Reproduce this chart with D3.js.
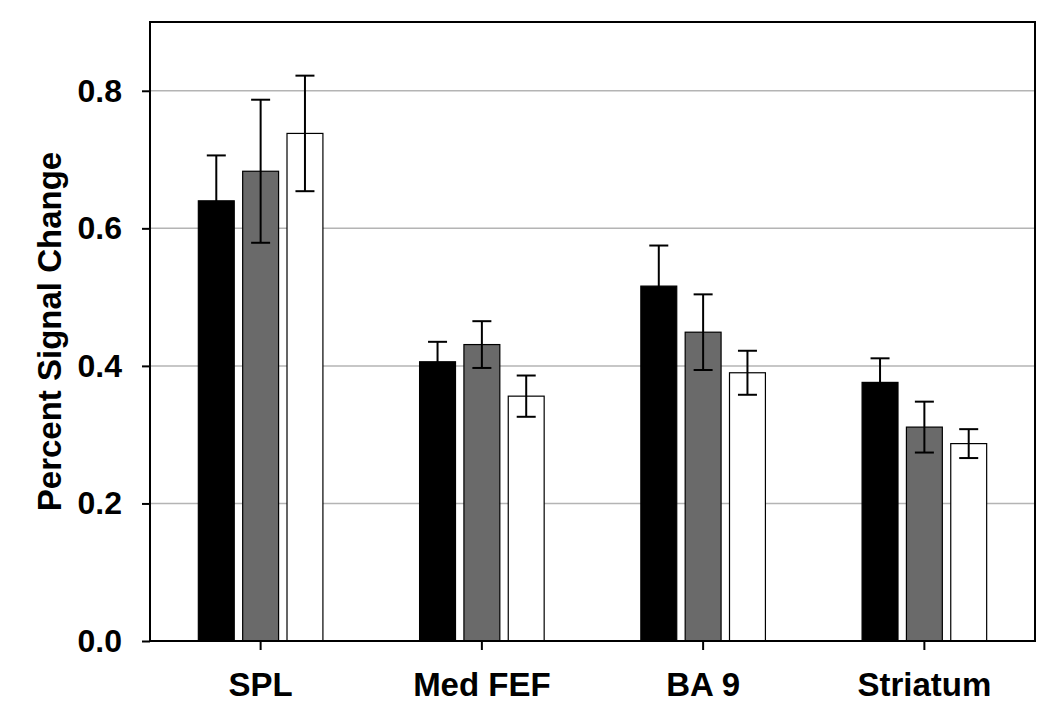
<!DOCTYPE html>
<html>
<head>
<meta charset="utf-8">
<script src="https://cdn.jsdelivr.net/npm/d3@7"></script>
<style>
  body { margin: 0; background: #fff; }
  text { font-family: "Liberation Sans", Arial, sans-serif; font-weight: bold; }
</style>
</head>
<body>
<svg id="chart"></svg>
<script>
w = 1050;
h = 719;
left = 150;   // y axis position
right = 1035;
top_ = 22;
bottom = 641;

var regions = ["SPL", "Med FEF", "BA 9", "Striatum"];
var seriesNames = ["s1", "s2", "s3"];
var seriesFill = ["#000000", "#6a6a6a", "#ffffff"];

// means per series, one value per region
var meansS1 = [0.640, 0.406, 0.516, 0.376];
var meansS2 = [0.683, 0.431, 0.449, 0.311];
var meansS3 = [0.738, 0.356, 0.390, 0.287];
// error bar half-lengths
var errS1 = [0.066, 0.029, 0.059, 0.035];
var errS2 = [0.104, 0.034, 0.055, 0.037];
var errS3 = [0.084, 0.030, 0.032, 0.021];

var yTicks = [0.0, 0.2, 0.4, 0.6, 0.8];

var means = [meansS1, meansS2, meansS3];
var errs = [errS1, errS2, errS3];

var rows = [];
for (var s = 0; s < seriesNames.length; s++) {
  for (var i = 0; i < regions.length; i++) {
    rows.push({ region: regions[i], series: seriesNames[s], fill: seriesFill[s],
                mean: means[s][i], err: errs[s][i] });
  }
}

var svg = d3.select('#chart').attr('width', w).attr('height', h);

var x = d3.scaleBand().domain(regions).range([left, right]);
var xs = d3.scaleBand().domain(seriesNames).range([-66.5, 66.5])
    .paddingInner(0.19).paddingOuter(0.095);
var y = d3.scaleLinear().domain([0, 0.9]).range([bottom, top_]);

// grid lines
svg.append('g').selectAll('line').data(yTicks.filter(function(d) { return d > 0; }))
  .enter().append('line')
    .attr('x1', left).attr('x2', right)
    .attr('y1', function(d) { return y(d); })
    .attr('y2', function(d) { return y(d); })
    .attr('stroke', '#b4b4b4')
    .attr('stroke-width', 1.5);

// bars
svg.append('g').selectAll('rect').data(rows).enter().append('rect')
    .attr('x', function(d) { return x(d.region) + x.bandwidth() / 2 + xs(d.series); })
    .attr('y', function(d) { return y(d.mean); })
    .attr('width', xs.bandwidth())
    .attr('height', function(d) { return y(0) - y(d.mean); })
    .attr('fill', function(d) { return d.fill; })
    .attr('stroke', '#000')
    .attr('stroke-width', 1.2);

// error bars
var eb = svg.append('g').selectAll('g').data(rows).enter().append('g')
    .attr('transform', function(d) {
      return 'translate(' + (x(d.region) + x.bandwidth() / 2 + xs(d.series) + xs.bandwidth() / 2) + ',0)';
    })
    .attr('stroke', '#000')
    .attr('stroke-width', 2);
eb.append('line')
    .attr('x1', 0).attr('x2', 0)
    .attr('y1', function(d) { return y(d.mean + d.err); })
    .attr('y2', function(d) { return y(d.mean - d.err); });
eb.append('line')
    .attr('x1', -9.5).attr('x2', 9.5)
    .attr('y1', function(d) { return y(d.mean + d.err); })
    .attr('y2', function(d) { return y(d.mean + d.err); });
eb.append('line')
    .attr('x1', -9.5).attr('x2', 9.5)
    .attr('y1', function(d) { return y(d.mean - d.err); })
    .attr('y2', function(d) { return y(d.mean - d.err); });

// frame
svg.append('rect')
    .attr('x', left).attr('y', top_)
    .attr('width', right - left).attr('height', bottom - top_)
    .attr('fill', 'none').attr('stroke', '#000').attr('stroke-width', 2);

// axes
var yAxis = svg.append('g')
    .attr('transform', 'translate(' + left + ',0)')
    .call(d3.axisLeft(y).tickValues(yTicks).tickFormat(d3.format('.1f')).tickSize(8).tickPadding(20));
var xAxis = svg.append('g')
    .attr('transform', 'translate(0,' + bottom + ')')
    .call(d3.axisBottom(x).tickSize(9).tickPadding(23));

[yAxis, xAxis].forEach(function(a) {
  a.select('.domain').remove();
  a.selectAll('.tick line').attr('stroke', '#000').attr('stroke-width', 2);
  a.selectAll('.tick text').attr('fill', '#000').style('font-family', '"Liberation Sans", Arial, sans-serif');
});
yAxis.selectAll('.tick text').style('font-size', '32px');
xAxis.selectAll('.tick text').style('font-size', '33px');

// axis title
svg.append('text')
    .attr('transform', 'translate(61,' + ((top_ + bottom) / 2) + ') rotate(-90)')
    .attr('text-anchor', 'middle')
    .style('font-size', '33px')
    .text('Percent Signal Change');
</script>
</body>
</html>
